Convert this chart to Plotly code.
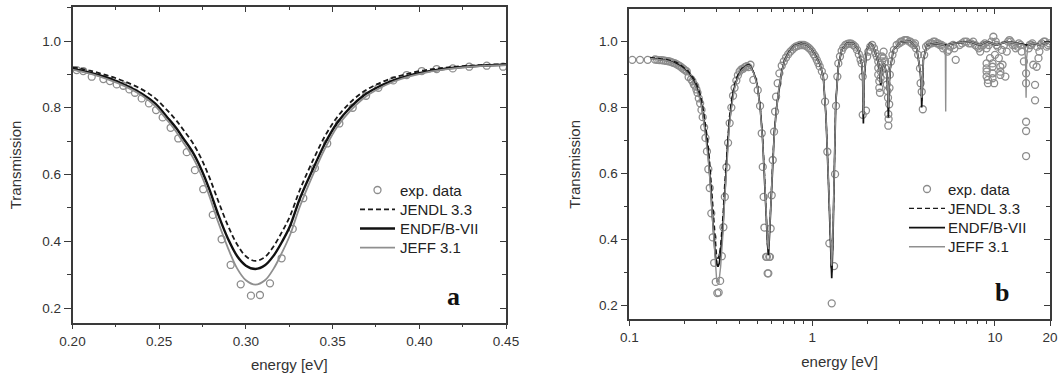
import numpy as np
import plotly.graph_objects as go

# ---------------- panel a (linear, 0.20-0.45 eV) ----------------
a_exp_E = [0.2024, 0.2062, 0.2111, 0.2178, 0.2216, 0.2255, 0.2293, 0.2328, 0.2360, 0.2399,
           0.2441, 0.2482, 0.2520, 0.2566, 0.2610, 0.2659, 0.2706, 0.2754, 0.2809, 0.2860,
           0.2912, 0.2970, 0.3029, 0.3081, 0.3139, 0.3206, 0.3270, 0.3331, 0.3398, 0.3469,
           0.3539, 0.3616, 0.3693, 0.3764, 0.3850, 0.3927, 0.4014, 0.4100, 0.4193, 0.4288,
           0.4389, 0.4483]
a_exp_T = [0.913, 0.910, 0.893, 0.886, 0.880, 0.870, 0.866, 0.855, 0.845, 0.828,
           0.813, 0.793, 0.771, 0.740, 0.708, 0.667, 0.613, 0.556, 0.479, 0.406,
           0.329, 0.271, 0.237, 0.239, 0.274, 0.349, 0.437, 0.529, 0.619, 0.693,
           0.753, 0.800, 0.836, 0.860, 0.882, 0.898, 0.910, 0.916, 0.918, 0.923,
           0.926, 0.923]

a_E = [0.200, 0.210, 0.220, 0.230, 0.240, 0.2476, 0.2547, 0.2597, 0.2639, 0.2693,
       0.2745, 0.2789, 0.2841, 0.2898, 0.2950, 0.3000, 0.3055, 0.3110, 0.3160, 0.3210,
       0.3254, 0.3312, 0.3389, 0.3456, 0.3524, 0.3600, 0.3677, 0.3754, 0.385, 0.395,
       0.405, 0.415, 0.425, 0.435, 0.450]
a_endf = [0.917, 0.905, 0.890, 0.869, 0.842, 0.813, 0.771, 0.740, 0.708, 0.667,
          0.613, 0.556, 0.479, 0.406, 0.355, 0.327, 0.317, 0.328, 0.357, 0.400,
          0.445, 0.529, 0.619, 0.693, 0.753, 0.800, 0.836, 0.860, 0.882, 0.898,
          0.909, 0.917, 0.922, 0.926, 0.929]
a_jeff = [0.914, 0.902, 0.886, 0.865, 0.837, 0.806, 0.762, 0.729, 0.696, 0.652,
          0.596, 0.536, 0.456, 0.378, 0.318, 0.283, 0.270, 0.283, 0.318, 0.368,
          0.418, 0.505, 0.602, 0.678, 0.741, 0.790, 0.828, 0.854, 0.878, 0.895,
          0.907, 0.915, 0.921, 0.925, 0.928]
a_jendl = [0.922, 0.911, 0.897, 0.879, 0.855, 0.829, 0.792, 0.763, 0.734, 0.695,
           0.645, 0.592, 0.520, 0.445, 0.390, 0.355, 0.341, 0.353, 0.385, 0.430,
           0.475, 0.555, 0.645, 0.715, 0.770, 0.815, 0.848, 0.870, 0.890, 0.904,
           0.914, 0.920, 0.925, 0.928, 0.931]

# ---------------- panel b (log, 0.1-20 eV) ----------------
b_exp_lo_E = [0.1038, 0.1144, 0.1261, 0.1382, 0.142, 0.146, 0.150, 0.154, 0.158, 0.162,
              0.166, 0.170, 0.174, 0.178, 0.182, 0.186, 0.190, 0.194, 0.198]
b_exp_lo_T = [0.945, 0.945, 0.945, 0.946, 0.945, 0.944, 0.944, 0.943, 0.942, 0.941,
              0.940, 0.938, 0.936, 0.934, 0.931, 0.928, 0.925, 0.921, 0.917]
b_exp_hi_E = [0.46, 0.477, 0.504, 0.519, 0.530, 0.537, 0.543, 0.548, 0.560, 0.566,
              0.571, 0.576, 0.583, 0.588, 0.593, 0.601, 0.609, 0.619, 0.627, 0.635,
              0.648, 0.662, 0.682, 0.70, 0.72, 0.74, 0.76, 0.78, 0.80, 0.82,
              0.84, 0.86, 0.88, 0.90, 0.92, 0.94, 0.96, 0.98, 1.0, 1.02,
              1.04, 1.06, 1.08, 1.10, 1.13, 1.162, 1.177, 1.211, 1.242, 1.280,
              1.318, 1.335, 1.351, 1.374, 1.391, 1.42, 1.45, 1.48, 1.52, 1.56,
              1.60, 1.64, 1.68, 1.72, 1.76, 1.80, 1.84, 1.867, 1.891, 1.891,
              1.971, 2.0, 2.03, 2.08, 2.13, 2.18, 2.22, 2.26, 2.30, 2.30,
              2.30, 2.33, 2.33, 2.35, 2.37, 2.37, 2.37, 2.41, 2.41, 2.46,
              2.46, 2.51, 2.51, 2.56, 2.56, 2.58, 2.60, 2.61, 2.62, 2.61,
              2.64, 2.65, 2.66, 2.70, 2.75, 2.8, 2.9, 3.0, 3.1, 3.2,
              3.3, 3.4, 3.5, 3.6, 3.7, 3.8, 3.89, 3.92, 3.975, 4.03,
              4.1, 4.2, 4.4, 4.6, 4.8, 5.0, 5.2, 5.5, 5.7, 5.9,
              6.1, 6.4, 6.8, 7.2, 7.6, 8.0, 8.3, 8.6, 9.0, 9.0,
              9.0, 9.0, 9.0, 9.15, 9.15, 9.4, 9.7, 9.7, 9.7, 9.7,
              9.8, 9.9, 10.0, 10.2, 10.5, 10.7, 10.7, 10.7, 11.0, 11.4,
              11.6, 12.0, 12.5, 13.0, 13.5, 14.0, 14.4, 14.8, 14.8, 14.8,
              14.8, 14.8, 15.3, 15.8, 16.2, 16.57, 16.57, 16.9, 17.3, 17.8,
              18.5, 19.2, 19.8]
b_exp_hi_T = [0.93, 0.884, 0.853, 0.805, 0.722, 0.620, 0.529, 0.436, 0.347, 0.347,
              0.297, 0.297, 0.347, 0.347, 0.433, 0.534, 0.641, 0.727, 0.788, 0.833,
              0.874, 0.904, 0.927, 0.94, 0.952, 0.962, 0.97, 0.976, 0.982, 0.986,
              0.988, 0.99, 0.99, 0.99, 0.988, 0.985, 0.981, 0.976, 0.97, 0.962,
              0.955, 0.945, 0.935, 0.925, 0.91, 0.894, 0.818, 0.666, 0.388, 0.206,
              0.319, 0.598, 0.805, 0.894, 0.934, 0.955, 0.972, 0.982, 0.99, 0.993,
              0.995, 0.994, 0.99, 0.985, 0.975, 0.962, 0.945, 0.934, 0.894, 0.778,
              0.791, 0.955, 0.97, 0.985, 0.99, 0.98, 0.965, 0.955, 0.94, 0.92,
              0.90, 0.88, 0.86, 0.845, 0.93, 0.91, 0.89, 0.955, 0.94, 0.97,
              0.95, 0.94, 0.92, 0.90, 0.87, 0.85, 0.83, 0.78, 0.765, 0.745,
              0.81, 0.86, 0.90, 0.94, 0.96, 0.975, 0.99, 0.995, 1.0, 1.005,
              1.005, 1.0, 0.995, 0.99, 0.98, 0.96, 0.919, 0.874, 0.848, 0.795,
              0.96, 0.985, 0.995, 1.0, 0.995, 0.99, 0.98, 0.97, 0.985, 0.99,
              0.945, 0.99, 1.0, 0.995, 1.0, 0.985, 0.97, 0.99, 0.98, 0.934,
              0.919, 0.909, 0.894, 0.884, 0.874, 0.95, 0.934, 0.924, 0.904, 0.889,
              1.015, 0.874, 0.96, 0.99, 0.95, 0.924, 0.909, 0.899, 0.93, 0.894,
              0.97, 1.005, 0.99, 0.98, 0.995, 0.97, 0.94, 0.904, 0.874, 0.757,
              0.729, 0.653, 0.98, 0.99, 0.93, 0.869, 0.822, 0.924, 0.95, 0.99,
              1.0, 0.985, 0.995]
b_exp_top_E = [3.05, 3.25, 3.45, 3.65, 4.3, 4.5, 4.7, 4.9, 5.1, 5.3,
               5.6, 6.0, 6.6, 7.0, 7.4, 7.8, 8.15, 8.45, 8.8, 9.25,
               9.55, 10.1, 10.35, 10.9, 11.2, 11.8, 12.2, 12.8, 13.3, 13.8,
               15.5, 16.0, 17.0, 17.5, 18.0, 18.8, 19.5]
b_exp_top_T = [1.0, 1.005, 1.0, 0.995, 0.99, 0.995, 1.0, 0.995, 0.99, 0.985,
               0.975, 0.98, 0.995, 1.0, 0.995, 0.99, 0.98, 0.985, 0.995, 0.99,
               1.0, 1.0, 0.985, 0.975, 0.99, 1.0, 1.0, 0.99, 0.985, 0.99,
               0.99, 0.995, 0.985, 0.97, 0.995, 1.0, 0.99]

b_lo_E = [0.13, 0.14, 0.15, 0.16, 0.17, 0.18, 0.19]
b_lo_endf = [0.950, 0.948, 0.946, 0.943, 0.939, 0.934, 0.926]
b_lo_jeff = [0.949, 0.947, 0.945, 0.942, 0.938, 0.932, 0.924]
b_lo_jendl = [0.952, 0.950, 0.948, 0.946, 0.942, 0.938, 0.931]

b_hi_E = [0.46, 0.48, 0.50, 0.52, 0.535, 0.55, 0.56, 0.57, 0.577, 0.583,
          0.595, 0.608, 0.621, 0.64, 0.66, 0.682, 0.708, 0.75, 0.80, 0.87,
          0.94, 1.00, 1.05, 1.105, 1.151, 1.191, 1.227, 1.264, 1.28, 1.297,
          1.318, 1.346, 1.391, 1.451, 1.546, 1.681, 1.79, 1.867, 1.89, 1.907,
          1.925, 1.988, 2.073, 2.162, 2.254, 2.331, 2.371, 2.411, 2.473, 2.557,
          2.59, 2.612, 2.635, 2.667, 2.782, 3.026, 3.432, 3.732, 3.892, 3.95,
          3.975, 4.0, 4.059, 4.233, 4.801, 5.265, 5.35, 5.377, 5.40, 5.491,
          5.923, 7.307, 8.289, 9.014, 10.22, 11.6, 13.15, 14.43, 14.7, 14.8,
          14.9, 15.17, 16.23, 17.65, 20.0]
b_hi_endf = [0.925, 0.905, 0.872, 0.80, 0.712, 0.59, 0.48, 0.385, 0.352, 0.40,
             0.51, 0.631, 0.723, 0.803, 0.864, 0.91, 0.944, 0.97, 0.988, 0.995,
             0.99, 0.975, 0.955, 0.93, 0.894, 0.772, 0.58, 0.378, 0.282, 0.378,
             0.60, 0.812, 0.924, 0.975, 0.995, 0.995, 0.975, 0.934, 0.89, 0.752,
             0.89, 0.975, 0.995, 0.985, 0.955, 0.924, 0.868, 0.924, 0.934, 0.904,
             0.86, 0.77, 0.86, 0.914, 0.975, 0.998, 1.002, 0.98, 0.914, 0.87,
             0.80, 0.87, 0.944, 0.99, 0.995, 0.99, 0.99, 0.99, 0.99, 0.99,
             0.995, 1.0, 0.99, 1.0, 0.99, 1.0, 0.995, 0.99, 0.99, 0.99,
             0.99, 0.99, 0.995, 0.99, 1.0]
b_hi_jeff = [0.924, 0.903, 0.869, 0.795, 0.705, 0.58, 0.47, 0.395, 0.37, 0.41,
             0.505, 0.625, 0.718, 0.80, 0.862, 0.908, 0.943, 0.969, 0.987, 0.994,
             0.99, 0.975, 0.955, 0.93, 0.894, 0.772, 0.585, 0.40, 0.32, 0.40,
             0.60, 0.812, 0.924, 0.975, 0.995, 0.995, 0.975, 0.934, 0.90, 0.78,
             0.90, 0.975, 0.995, 0.985, 0.955, 0.924, 0.875, 0.924, 0.934, 0.904,
             0.865, 0.80, 0.865, 0.914, 0.975, 0.998, 1.002, 0.98, 0.914, 0.88,
             0.83, 0.88, 0.944, 0.99, 0.995, 0.99, 0.985, 0.788, 0.985, 0.99,
             0.995, 1.0, 0.99, 1.0, 0.99, 1.0, 0.995, 0.99, 0.95, 0.83,
             0.95, 0.99, 0.995, 0.99, 1.0]
b_hi_jendl = [0.926, 0.906, 0.874, 0.803, 0.716, 0.595, 0.485, 0.385, 0.36, 0.405,
              0.515, 0.636, 0.727, 0.806, 0.866, 0.911, 0.945, 0.971, 0.988, 0.995,
              0.99, 0.975, 0.955, 0.93, 0.895, 0.775, 0.585, 0.385, 0.30, 0.385,
              0.605, 0.815, 0.925, 0.975, 0.995, 0.995, 0.975, 0.934, 0.895, 0.77,
              0.895, 0.975, 0.995, 0.985, 0.955, 0.924, 0.87, 0.924, 0.934, 0.904,
              0.862, 0.79, 0.862, 0.914, 0.975, 0.998, 1.002, 0.98, 0.914, 0.875,
              0.82, 0.875, 0.944, 0.99, 0.995, 0.99, 0.99, 0.99, 0.99, 0.99,
              0.995, 1.0, 0.99, 1.0, 0.99, 1.0, 0.995, 0.99, 0.99, 0.99,
              0.99, 0.99, 0.995, 0.99, 1.0]

zoom_box_E = [0.185, 0.447]
zoom_box_T = [0.181, 1.061]

series_names = ["exp. data", "JENDL 3.3", "ENDF/B-VII", "JEFF 3.1"]

# combined panel-b arrays
b_exp_E = b_exp_lo_E + a_exp_E + b_exp_hi_E + b_exp_top_E
b_exp_T = b_exp_lo_T + a_exp_T + b_exp_hi_T + b_exp_top_T
b_E = b_lo_E + a_E + b_hi_E
b_endf = b_lo_endf + a_endf + b_hi_endf
b_jeff = b_lo_jeff + a_jeff + b_hi_jeff
b_jendl = b_lo_jendl + a_jendl + b_hi_jendl

FONT = "Arial, Liberation Sans, sans-serif"
SERIF = "Liberation Serif, Times New Roman, serif"
AX = "#3a3a3a"
GRAY = "#8c8c8c"
W, H = 1059, 376

fig = go.Figure()

def styles(lw):
    return [None,
            dict(color="#1a1a1a", width=lw[0], dash="5px,3px"),
            dict(color="#111111", width=lw[1]),
            dict(color="#8f8f8f", width=lw[2])]

a_styles = styles((1.8, 2.4, 1.8))
b_styles = styles((1.3, 1.7, 1.4))

def add_panel(xa, ya, E_exp, T_exp, E, jendl, endf, jeff, st, shape):
    fig.add_trace(go.Scatter(x=E_exp, y=T_exp, mode="markers", name=series_names[0],
                             xaxis=xa, yaxis=ya, showlegend=False,
                             marker=dict(symbol="circle-open", size=7, color=GRAY,
                                         line=dict(width=1.3, color=GRAY))))
    for name, vals, s in zip(series_names[1:], [jendl, endf, jeff], st[1:]):
        fig.add_trace(go.Scatter(x=E, y=vals, mode="lines", name=name,
                                 xaxis=xa, yaxis=ya, showlegend=False,
                                 line=dict(shape=shape, **s)))

add_panel("x", "y", a_exp_E, a_exp_T, a_E, a_jendl, a_endf, a_jeff, a_styles, "spline")
add_panel("x2", "y2", b_exp_E, b_exp_T, b_E, b_jendl, b_endf, b_jeff, b_styles, "linear")

# empty helper traces so that the mirrored (top / right) frame axes are drawn
for xa, ya in [("x3", "y"), ("x", "y3"), ("x4", "y2"), ("x2", "y4")]:
    fig.add_trace(go.Scatter(x=[], y=[], xaxis=xa, yaxis=ya, showlegend=False,
                             hoverinfo="skip", mode="markers"))

tickfont = dict(family=FONT, size=13.5, color="#333")
titlefont = dict(family=FONT, size=15, color="#333")

ax_a = dict(x0=72.5, x1=506.0, y0=7.3, y1=322.7)
ax_b = dict(x0=629.3, x1=1050.0, y0=9.3, y1=319.3)

def xdom(g):
    return [g["x0"] / W, g["x1"] / W]

def ydom(g):
    return [1 - g["y1"] / H, 1 - g["y0"] / H]

a_yrange = [0.156, 1.101]
b_yrange = [0.1575, 1.0983]
a_xrange = [0.20, 0.45]
b_xrange = [-1, np.log10(20)]

common = dict(showgrid=False, zeroline=False, showline=True, linecolor=AX, linewidth=1.5,
              tickcolor=AX, tickwidth=1.3, tickfont=tickfont, automargin=False)

b_major = [0.1, 1, 10, 20]
b_major_text = ["0.1", "1", "10", "20"]
b_minor = [0.2, 0.3, 0.4, 0.5, 0.6, 0.7, 0.8, 0.9, 2, 3, 4, 5, 6, 7, 8, 9]

fig.update_layout(
    width=W, height=H, margin=dict(l=0, r=0, t=0, b=0),
    paper_bgcolor="white", plot_bgcolor="white",
    font=dict(family=FONT, color="#333"),
    showlegend=False,
    xaxis=dict(domain=xdom(ax_a), range=a_xrange, anchor="y", tick0=0.2, dtick=0.05,
               tickformat=".2f", ticks="outside", ticklen=5,
               minor=dict(dtick=0.025, tick0=0.2, ticks="outside", ticklen=3, tickcolor=AX),
               title=dict(text="energy [eV]", font=titlefont, standoff=12), **common),
    yaxis=dict(domain=ydom(ax_a), range=a_yrange, anchor="x", tick0=0, dtick=0.2,
               tickformat=".1f", ticks="outside", ticklen=7,
               minor=dict(dtick=0.1, tick0=0, ticks="outside", ticklen=4, tickcolor=AX),
               title=dict(text="Transmission", font=titlefont, standoff=17), **common),
    xaxis3=dict(range=a_xrange, anchor="y", overlaying="x", side="top",
                tick0=0.2, dtick=0.05, ticks="inside", ticklen=5, showticklabels=False,
                minor=dict(dtick=0.025, tick0=0.2, ticks="inside", ticklen=3, tickcolor=AX),
                **common),
    yaxis3=dict(range=a_yrange, anchor="x", overlaying="y", side="right",
                tick0=0, dtick=0.2, ticks="inside", ticklen=6, showticklabels=False,
                minor=dict(dtick=0.1, tick0=0, ticks="inside", ticklen=4, tickcolor=AX),
                **common),
    xaxis2=dict(domain=xdom(ax_b), type="log", range=b_xrange, anchor="y2",
                tickmode="array", tickvals=b_major, ticktext=b_major_text,
                ticks="outside", ticklen=5,
                minor=dict(tickmode="array", tickvals=b_minor, ticks="outside", ticklen=3,
                           tickcolor=AX),
                title=dict(text="energy [eV]", font=titlefont, standoff=12), **common),
    yaxis2=dict(domain=ydom(ax_b), range=b_yrange, anchor="x2", tick0=0, dtick=0.2,
                tickformat=".1f", ticks="outside", ticklen=7,
                minor=dict(dtick=0.1, tick0=0, ticks="outside", ticklen=4, tickcolor=AX),
                title=dict(text="Transmission", font=titlefont, standoff=15), **common),
    xaxis4=dict(type="log", range=b_xrange, anchor="y2", overlaying="x2",
                side="top", tickmode="array", tickvals=b_major, ticks="inside",
                ticklen=5, showticklabels=False,
                minor=dict(tickmode="array", tickvals=b_minor, ticks="inside", ticklen=3,
                           tickcolor=AX),
                **common),
    yaxis4=dict(range=b_yrange, anchor="x2", overlaying="y2", side="right",
                tick0=0, dtick=0.2, ticks="inside", ticklen=6, showticklabels=False,
                minor=dict(dtick=0.1, tick0=0, ticks="inside", ticklen=4, tickcolor=AX),
                **common),
)

fig.add_shape(type="rect", xref="x2", yref="y2",
              x0=np.log10(zoom_box_E[0]), x1=np.log10(zoom_box_E[1]),
              y0=zoom_box_T[0], y1=zoom_box_T[1],
              line=dict(color="#111", width=1.6))

def draw_legend(x_line0, x_line1, x_text, rows, st):
    xc = (x_line0 + x_line1) / 2
    for i, name in enumerate(series_names):
        yc = rows[i]
        if i == 0:
            r = 3.5
            fig.add_shape(type="circle", xref="paper", yref="paper",
                          x0=(xc - r) / W, x1=(xc + r) / W,
                          y0=1 - (yc + r) / H, y1=1 - (yc - r) / H,
                          line=dict(color=GRAY, width=1.3))
        else:
            fig.add_shape(type="line", xref="paper", yref="paper",
                          x0=x_line0 / W, x1=x_line1 / W, y0=1 - yc / H, y1=1 - yc / H,
                          line=st[i])
        fig.add_annotation(text=name, xref="paper", yref="paper", x=x_text / W, y=1 - yc / H,
                           xanchor="left", yanchor="middle", showarrow=False,
                           font=dict(family=FONT, size=15, color="#222"))

draw_legend(360, 395, 398, [190, 209.3, 228.5, 247.7], a_styles)
draw_legend(909, 945, 946, [189, 208.3, 227.6, 246.8], b_styles)

fig.add_annotation(text="<b>a</b>", xref="paper", yref="paper", x=453 / W, y=1 - 296 / H,
                   xanchor="center", yanchor="middle", showarrow=False,
                   font=dict(family=SERIF, size=26, color="#111"))
fig.add_annotation(text="<b>b</b>", xref="paper", yref="paper", x=1002 / W, y=1 - 292 / H,
                   xanchor="center", yanchor="middle", showarrow=False,
                   font=dict(family=SERIF, size=26, color="#111"))

fig.write_html("out.html")
